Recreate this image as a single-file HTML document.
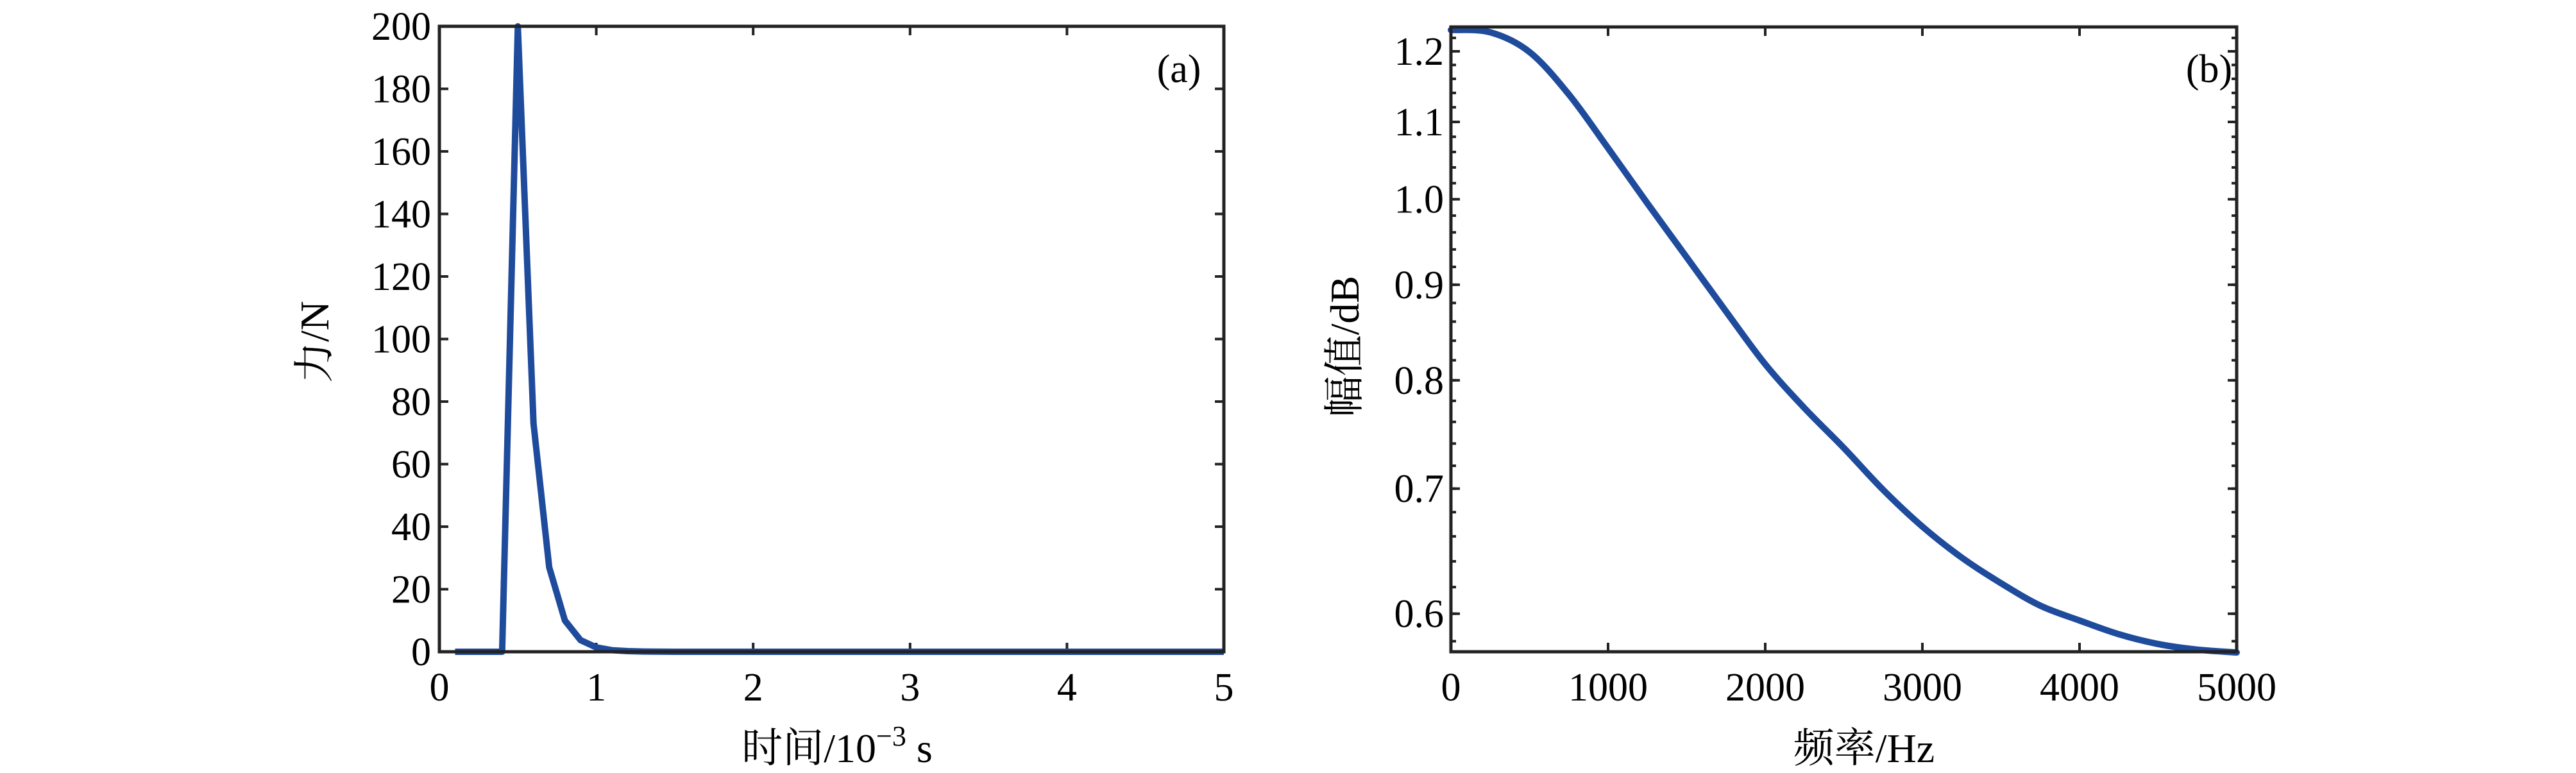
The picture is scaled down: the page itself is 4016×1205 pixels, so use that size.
<!DOCTYPE html>
<html><head><meta charset="utf-8"><style>
html,body{margin:0;padding:0;background:#fff;}
svg{display:block;font-family:"Liberation Serif","Noto Serif CJK SC",serif;}
</style></head><body>
<svg width="4016" height="1205" viewBox="0 0 4016 1205">
<g id="pa"></g>
<g id="pb"></g>
</svg>
<script>
// Panel (a) data
const aTimes = [0.1,0.2,0.3,0.4,0.5,0.6,0.7,0.8,0.9,1.0,1.1,1.2,1.3,1.5,2,3,4,5];
const aForce = [0,0,0,0,200,73,27,10,3.7,1.4,0.5,0.2,0.07,0,0,0,0,0];
const aXTicks = ["0","1","2","3","4","5"];
const aYTicks = ["0","20","40","60","80","100","120","140","160","180","200"];
// Panel (b) data
const bFreq = [0,250,500,750,1000,1250,1500,1750,2000,2250,2500,2750,3000,3250,3500,3750,4000,4250,4500,4750,5000];
const bAmp = [1.232,1.2285,1.199,1.138,1.065,0.995,0.931,0.871,0.816,0.773,0.736,0.699,0.668,0.643,0.623,0.606,0.595,0.585,0.578,0.574,0.572];
const bXTicks = ["0","1000","2000","3000","4000","5000"];
const bYTicks = ["0.6","0.7","0.8","0.9","1.0","1.1","1.2"];

const NS="http://www.w3.org/2000/svg";
function mk(parent,tag,attrs){const e=document.createElementNS(NS,tag);for(const k in attrs)e.setAttribute(k,attrs[k]);parent.appendChild(e);return e;}
const LINE="#1f4b9c", AX="#222", FS=62, TFS=64;

// ---- Panel A ----
(function(){
const g=document.getElementById('pa');
const L=685,R=1908,T=41,B=1016;
const xs=v=>L+(v-0)/(5-0)*(R-L);
const ys=v=>B-(v-0)/200*(B-T);
aXTicks.forEach(t=>{const v=+t,x=xs(v);
 let l=mk(g,'line',{x1:x,x2:x,y1:B,y2:B-14,stroke:AX,'stroke-width':4});
 
 l=mk(g,'line',{x1:x,x2:x,y1:T,y2:T+14,stroke:AX,'stroke-width':4});
 
 const tx=mk(g,'text',{x:x,y:1092,'font-size':FS,'text-anchor':'middle'});tx.textContent=t;
 
});
aYTicks.forEach(t=>{const v=+t,y=ys(v);
 let l=mk(g,'line',{x1:L,x2:L+14,y1:y,y2:y,stroke:AX,'stroke-width':4});
 
 l=mk(g,'line',{x1:R,x2:R-14,y1:y,y2:y,stroke:AX,'stroke-width':4});
 
 const tx=mk(g,'text',{x:672,y:y+21,'font-size':FS,'text-anchor':'end'});tx.textContent=t;
 
});
const pts=aTimes.map((t,i)=>xs(t)+','+ys(aForce[i])).join(' ');
const pl=mk(g,'polyline',{points:pts,fill:'none',stroke:LINE,'stroke-width':10,'stroke-linejoin':'round'});

const box=mk(g,'rect',{x:L,y:T,width:R-L,height:B-T,fill:'none',stroke:AX,'stroke-width':5});

const lab=mk(g,'text',{x:1838,y:128,'font-size':FS,'text-anchor':'middle'});lab.textContent='(a)';

const xt=mk(g,'text',{x:1305,y:1188,'font-size':TFS,'text-anchor':'middle'});
xt.innerHTML='时间/10<tspan font-size="44" dy="-26">−3</tspan><tspan dy="26"> s</tspan>';

const yt=mk(g,'text',{x:0,y:0,'font-size':TFS,'text-anchor':'middle',transform:'translate(512,533) rotate(-90)'});yt.textContent='力/N';

})();

// ---- Panel B ----
(function(){
const g=document.getElementById('pb');
const L=2262,R=3487,T=42,B=1016;
const ymin=0.5725,ymax=1.2366;
const xs=v=>L+v/5000*(R-L);
const ys=v=>B-(Math.log(v)-Math.log(ymin))/(Math.log(ymax)-Math.log(ymin))*(B-T);
bXTicks.forEach(t=>{const v=+t,x=xs(v);
 let l=mk(g,'line',{x1:x,x2:x,y1:B,y2:B-14,stroke:AX,'stroke-width':4});
 
 l=mk(g,'line',{x1:x,x2:x,y1:T,y2:T+14,stroke:AX,'stroke-width':4});
 
 const tx=mk(g,'text',{x:x,y:1092,'font-size':FS,'text-anchor':'middle'});tx.textContent=t;
 
});
for(let v=0.58;v<1.235;v+=0.02){const y=ys(v);
 let l=mk(g,'line',{x1:L,x2:L+8,y1:y,y2:y,stroke:AX,'stroke-width':4});
 
 l=mk(g,'line',{x1:R,x2:R-8,y1:y,y2:y,stroke:AX,'stroke-width':4});
 
}
bYTicks.forEach(t=>{const v=+t,y=ys(v);
 let l=mk(g,'line',{x1:L,x2:L+14,y1:y,y2:y,stroke:AX,'stroke-width':4});
 
 l=mk(g,'line',{x1:R,x2:R-14,y1:y,y2:y,stroke:AX,'stroke-width':4});
 
 const tx=mk(g,'text',{x:2251,y:y+21,'font-size':FS,'text-anchor':'end'});tx.textContent=t;
 
});
const P=bFreq.map((f,i)=>[xs(f),ys(bAmp[i])]);
let d='M'+P[0][0]+','+P[0][1];
for(let i=0;i<P.length-1;i++){const p0=P[Math.max(0,i-1)],p1=P[i],p2=P[i+1],p3=P[Math.min(P.length-1,i+2)];
 const c1=[p1[0]+(p2[0]-p0[0])/6,p1[1]+(p2[1]-p0[1])/6],c2=[p2[0]-(p3[0]-p1[0])/6,p2[1]-(p3[1]-p1[1])/6];
 d+=' C'+c1[0]+','+c1[1]+' '+c2[0]+','+c2[1]+' '+p2[0]+','+p2[1];}
const pa=mk(g,'path',{d:d,fill:'none',stroke:LINE,'stroke-width':10,'stroke-linecap':'round'});

const box=mk(g,'rect',{x:L,y:T,width:R-L,height:B-T,fill:'none',stroke:AX,'stroke-width':5});

const lab=mk(g,'text',{x:3444,y:128,'font-size':FS,'text-anchor':'middle'});lab.textContent='(b)';

const xt=mk(g,'text',{x:2906,y:1188,'font-size':TFS,'text-anchor':'middle'});xt.textContent='频率/Hz';

const yt=mk(g,'text',{x:0,y:0,'font-size':TFS,'text-anchor':'middle',transform:'translate(2118,540) rotate(-90)'});yt.textContent='幅值/dB';

})();
</script>
</body></html>
